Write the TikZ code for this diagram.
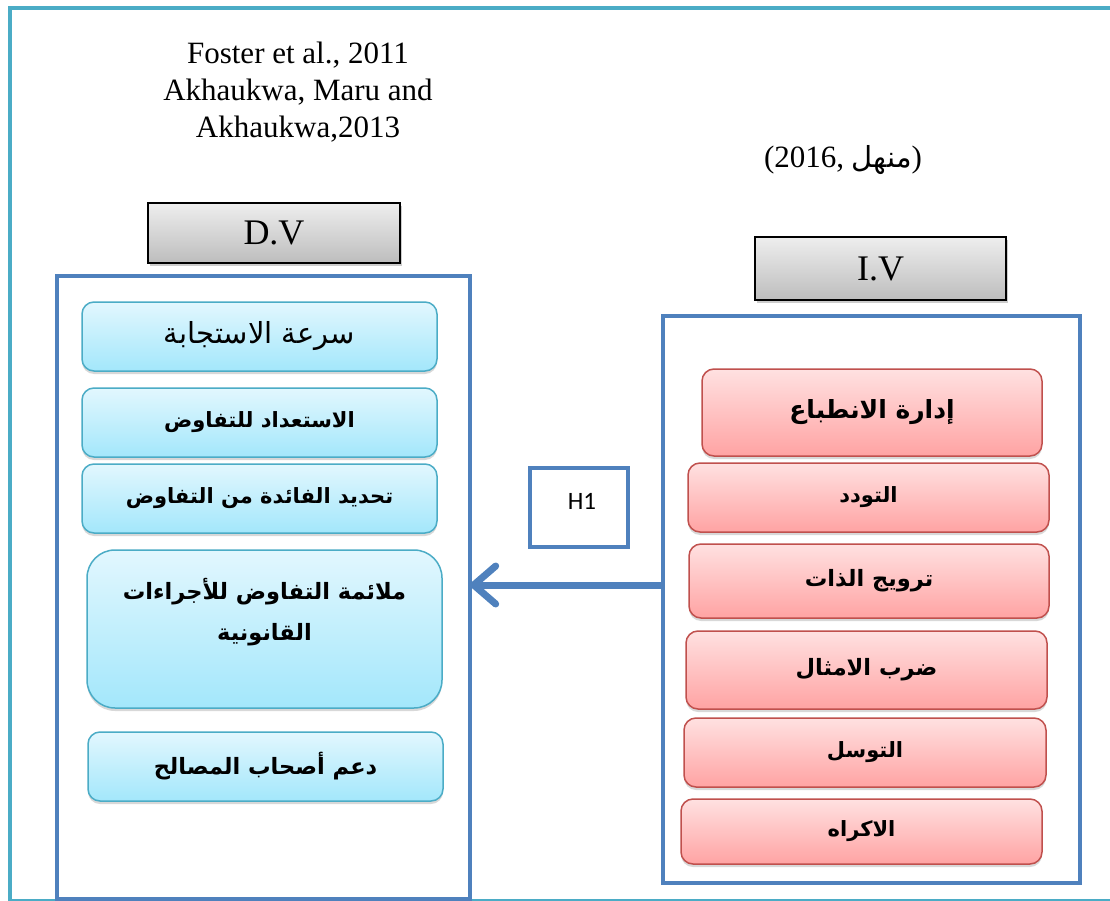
\documentclass[tikz,border=0pt]{standalone}
\usepackage{fontspec}
\setmainfont{Liberation Serif}
\newfontfamily\arabicfont[Script=Arabic]{DejaVu Sans}
\newfontfamily\hfont{Carlito}
\TeXXeTstate=1
\usetikzlibrary{shadows,arrows.meta}
\definecolor{frameteal}{HTML}{4BACC6}
\definecolor{contblue}{HTML}{4F81BD}
\definecolor{bluetop}{HTML}{E2F7FE}
\definecolor{bluebot}{HTML}{A3E7FB}
\definecolor{blueedge}{HTML}{4BACC6}
\definecolor{redtop}{HTML}{FFE1E1}
\definecolor{redbot}{HTML}{FFA3A3}
\definecolor{rededge}{HTML}{C0504D}
\definecolor{graytop}{HTML}{EEEEEE}
\definecolor{graybot}{HTML}{BDBDBD}
\tikzset{
  shad/.style={drop shadow={shadow xshift=0pt,shadow yshift=-3pt,opacity=0.3}},
  bluebox/.style={draw=blueedge, line width=1.5pt, rounded corners=12pt, top color=bluetop, bottom color=bluebot, shad, inner sep=0pt},
  redbox/.style={draw=rededge, line width=1.5pt, rounded corners=12pt, top color=redtop, bottom color=redbot, shad, inner sep=0pt},
  graybox/.style={draw=black, line width=1.5pt, top color=graytop, bottom color=graybot, drop shadow={shadow xshift=2pt,shadow yshift=-3pt,opacity=0.4}, inner sep=0pt, font=\fontsize{36}{40}\selectfont},
  container/.style={draw=contblue, line width=4pt, fill=white},
  arb/.style={font=\arabicfont\bfseries\fontsize{21}{41}\selectfont, align=center},
  arbl/.style={font=\arabicfont\bfseries\fontsize{22.5}{41}\selectfont, align=center},
  arbbig/.style={font=\arabicfont\fontsize{29}{34}\selectfont},
  cite/.style={font=\fontsize{31}{37}\selectfont, align=center},
}
\begin{document}
\begin{tikzpicture}[x=1pt,y=-1pt]
\useasboundingbox (0,0) rectangle (1110,901);
\clip (0,0) rectangle (1110,901);
% outer frame
\draw[frameteal, line width=4pt] (10,8) rectangle (1118,901);
% citations
\node[cite] (c1) at (298,92) {Foster et al., 2011\\Akhaukwa, Maru and\\Akhaukwa,2013};
\node[cite] (c2) at (843,160) {(2016, {\arabicfont\fontsize{29}{34}\selectfont\beginR منهل\endR})};
% headers
\node[graybox, minimum width=252pt, minimum height=60pt] (dv) at (274,233) {D.V};
\node[graybox, minimum width=251pt, minimum height=63pt] (iv) at (880.5,268.5) {I.V};
% containers
\draw[container] (57,276) rectangle (470,899);
\node[minimum width=413pt, minimum height=623pt, inner sep=0pt] (lc) at (263.5,587.5) {};
\node[container, minimum width=417pt, minimum height=567pt, inner sep=0pt] (rc) at (871.5,599.5) {};
% blue boxes
\node[bluebox, minimum width=355pt, minimum height=69pt, arbbig] (b1) at (259.5,336.5) {\beginR سرعة الاستجابة\endR};
\node[bluebox, minimum width=355pt, minimum height=69pt, arb] (b2) at (259.5,422.5) {\beginR الاستعداد للتفاوض\endR};
\node[bluebox, minimum width=355pt, minimum height=69pt, arb] (b3) at (259.5,498.5) {\beginR تحديد الفائدة من التفاوض\endR};
\node[bluebox, rounded corners=28pt, minimum width=355pt, minimum height=158pt] (b4) at (264.5,629) {};
\node[arbl] (b4t) at (264.5,612) {\beginR ملائمة التفاوض للأجراءات\endR\\\beginR القانونية\endR};
\node[bluebox, minimum width=355pt, minimum height=69pt, arbl] (b5) at (265.5,766.5) {\beginR دعم أصحاب المصالح\endR};
% red boxes
\node[redbox, minimum width=340pt, minimum height=87pt, arb, font=\arabicfont\bfseries\fontsize{25}{30}\selectfont] (r0) at (872,412.5) {\beginR إدارة الانطباع\endR};
\node[redbox, minimum width=361pt, minimum height=69pt, arb] (r1) at (868.5,497.5) {\beginR التودد\endR};
\node[redbox, minimum width=360pt, minimum height=74pt, arbl] (r2) at (869,581) {\beginR ترويج الذات\endR};
\node[redbox, minimum width=361pt, minimum height=78pt, arbl] (r3) at (866.5,670) {\beginR ضرب الامثال\endR};
\node[redbox, minimum width=362pt, minimum height=69pt, arb] (r4) at (865,752.5) {\beginR التوسل\endR};
\node[redbox, minimum width=361pt, minimum height=65pt, arb] (r5) at (861.5,831.5) {\beginR الاكراه\endR};
% H1
\node[draw=contblue, line width=4pt, fill=white, minimum width=98pt, minimum height=79pt, inner sep=0pt] (h1) at (579,507.5) {};
\node[font=\hfont\fontsize{25}{28}\selectfont] (h1t) at (582,501) {H1};
% arrow
\coordinate (aS) at (rc.west |- 0,585);
\coordinate (aE) at (lc.east |- 0,585);
\draw[contblue, line width=7pt, -{Straight Barb[length=22pt,width=38pt,round]}] (aS) -- (aE);
\end{tikzpicture}
\end{document}
